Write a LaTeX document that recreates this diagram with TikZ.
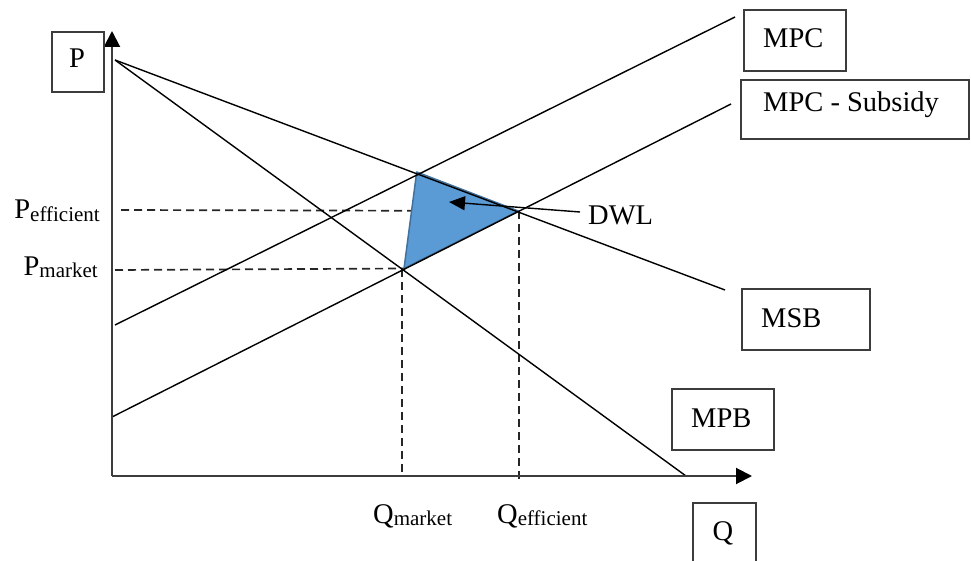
\documentclass[tikz,border=0pt]{standalone}
\usepackage{fontspec}
\setmainfont{Liberation Serif}
\usetikzlibrary{arrows.meta}
\definecolor{axisgray}{RGB}{60,60,60}
\definecolor{dwlfill}{RGB}{91,155,213}
\definecolor{dwledge}{RGB}{65,113,156}
\begin{document}
\begin{tikzpicture}[x=1pt,y=-1pt]
\tikzset{
  curve/.style={line width=1.4pt, draw=black},
  axisline/.style={line width=2pt, draw=axisgray, -{Triangle[length=16pt,width=16pt,color=black]}},
  guide/.style={dash pattern=on 8pt off 5pt, line width=1.7pt, draw=black!85},
  lbox/.style={draw=axisgray, line width=1.6pt, inner sep=0pt, anchor=north west},
  lab/.style={font=\fontsize{28.5}{30}\selectfont, inner sep=0pt, anchor=base west},
  pointer/.style={line width=1.4pt, -{Triangle[length=16pt,width=14pt]}},
}
\newcommand{\subtxt}[1]{\raisebox{-2pt}{\fontsize{21}{22}\selectfont #1}}
\useasboundingbox (0,0) rectangle (971,561);

% coordinates
\coordinate (O) at (112,476);
\coordinate (ytip) at (112,31);
\coordinate (xtip) at (752,476);
\coordinate (msbS) at (115,60);
\coordinate (msbE) at (725,290);
\coordinate (mpbS) at (115,60);
\coordinate (mpbE) at (686,476);
\coordinate (mpcS) at (115,325);
\coordinate (mpcE) at (735,17);
\coordinate (mpcsS) at (112,417);
\coordinate (mpcsE) at (731,104);
\coordinate (tA) at (416.7,172);
\coordinate (tB) at (518.3,211);
\coordinate (tC) at (404,268.5);
\coordinate (peL) at (121,210);
\coordinate (pmL) at (115,270);
\coordinate (qmT) at (402,269);
\coordinate (qmB) at (402,476);
\coordinate (qeT) at (519,211);
\coordinate (qeB) at (519,482);
\coordinate (dwlS) at (580,212);
\coordinate (dwlT) at (449,202);

% dashed guides
\draw[guide] (peL) -- (tB);
\draw[guide] (pmL) -- (tC);
\draw[guide] (qmT) -- (qmB);
\draw[guide] (qeT) -- (qeB);

% DWL triangle
\filldraw[fill=dwlfill, draw=dwledge, line width=1.5pt, line join=round] (tA) -- (tB) -- (tC) -- cycle;

% curves
\draw[curve] (msbS) -- (msbE);
\draw[curve] (mpbS) -- (mpbE);
\draw[curve] (mpcS) -- (mpcE);
\draw[curve] (mpcsS) -- (mpcsE);

% axes
\draw[axisline] (O) -- (ytip);
\draw[axisline] (O) -- (xtip);

% DWL pointer
\draw[pointer] (dwlS) -- (dwlT);
\node[lab] (dwl) at (588,225) {DWL};

% boxes
\node[lbox, minimum width=52pt, minimum height=60pt] (pbox) at (51,31) {};
\node[lab, anchor=base] (ptxt) at (77,68) {P};
\node[lbox, minimum width=102pt, minimum height=61pt] (mpcbox) at (743,9) {};
\node[lab] (mpctxt) at (763,48) {MPC};
\node[lbox, minimum width=228pt, minimum height=59pt] (mpcsbox) at (740,79) {};
\node[lab] (mpcstxt) at (763,112) {MPC - Subsidy};
\node[lbox, minimum width=128pt, minimum height=61pt] (msbbox) at (741,288) {};
\node[lab] (msbtxt) at (761,327) {MSB};
\node[lbox, minimum width=102pt, minimum height=61pt] (mpbbox) at (671,388) {};
\node[lab] (mpbtxt) at (691,427) {MPB};
\node[lbox, minimum width=63pt, minimum height=62pt] (qbox) at (692,502) {};
\node[lab, anchor=base] (qtxt) at (723,540) {Q};

% axis value labels
\node[lab, anchor=base east] (peff) at (100,219) {P\subtxt{efficient}};
\node[lab, anchor=base east] (pmkt) at (98,275) {P\subtxt{market}};
\node[lab] (qmkt) at (373,523) {Q\subtxt{market}};
\node[lab] (qeff) at (497,523) {Q\subtxt{efficient}};
\end{tikzpicture}
\end{document}
